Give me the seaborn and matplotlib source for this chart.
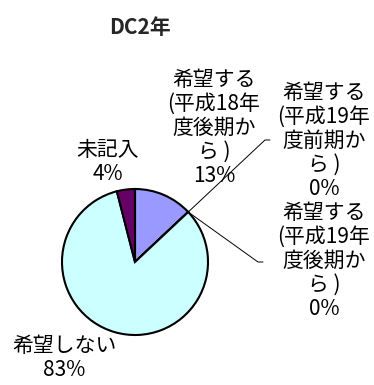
import numpy as np
import matplotlib
matplotlib.use("Agg")
import matplotlib.pyplot as plt
import seaborn as sns

# ---- data ----
title = "DC2年"
categories = [
    "希望する\n(平成18年\n度後期か\nら )",
    "希望する\n(平成19年\n度前期か\nら )",
    "希望する\n(平成19年\n度後期か\nら )",
    "希望しない",
    "未記入",
]
values = [13, 0, 0, 83, 4]
pct_labels = ["13%", "0%", "0%", "83%", "4%"]
colors = ["#9999FF", "#993366", "#FFFFCC", "#CCFFFF", "#660066"]

sns.set_theme(style="white")
plt.rcParams["font.family"] = ["Noto Sans CJK JP", "DejaVu Sans"]

W, H = 374, 385
fig = plt.figure(figsize=(W / 100, H / 100), dpi=100)
ax = fig.add_axes([0, 0, 1, 1])

cx, cy, r = 135, H - 262, 73
wedges, _ = ax.pie(
    values, colors=colors, startangle=90, counterclock=False,
    center=(cx, cy), radius=r, frame=True,
    wedgeprops=dict(edgecolor="black", linewidth=1.5),
)
ax.set_xlim(0, W)
ax.set_ylim(0, H)
ax.set_aspect("equal")
ax.axis("off")

fs = 15
ls = 1.12
# label positions (text block centres)
label_pos = [(214, H - 128), (324, H - 141), (324, H - 261), (64, H - 358), (108, H - 162)]
for cat, pct, (lx, ly) in zip(categories, pct_labels, label_pos):
    ax.text(lx, ly, f"{cat}\n{pct}", ha="center", va="center", multialignment="center",
            fontsize=fs, color="black", linespacing=ls)

# leader lines for the 0% slices
for w, (ex, ey) in zip([wedges[1], wedges[2]], [(265, H - 140), (258, H - 262)]):
    ang = np.deg2rad(w.theta1)
    sx, sy = cx + r * np.cos(ang), cy + r * np.sin(ang)
    ax.plot([sx, ex, ex + 5], [sy, ey, ey], color="black", lw=0.7)

fig.text(140 / W, 1 - 28 / H, title, ha="center", va="center",
         fontsize=15, fontweight="bold")

fig.savefig("out.png", dpi=100)
